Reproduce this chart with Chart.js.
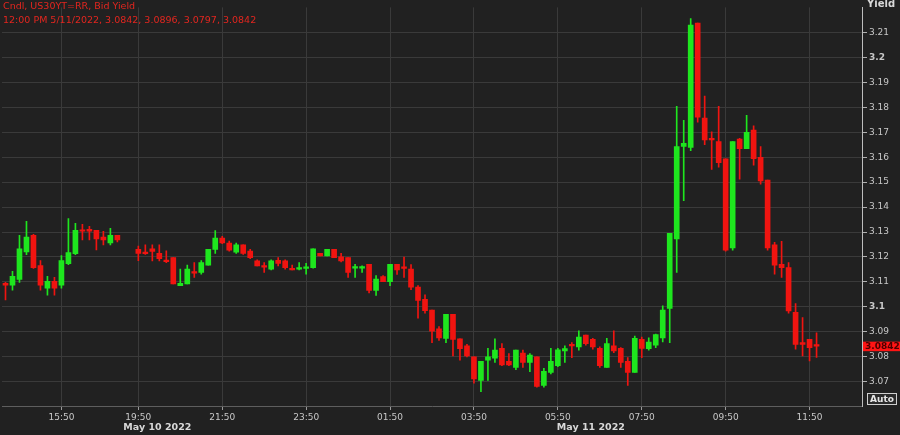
<!DOCTYPE html>
<html>
<head>
<meta charset="utf-8">
<script src="https://cdn.jsdelivr.net/npm/chart.js@4.4.1/dist/chart.umd.min.js"></script>
<style>
  html, body { margin: 0; padding: 0; background: #212121; }
  #wrap { width: 900px; height: 435px; }
</style>
</head>
<body>
<div id="wrap"><canvas id="chart" width="900" height="435"></canvas></div>
<script>
// 10-minute candles, US30YT=RR bid yield
const times = [
  '14:30','14:40','14:50','15:00','15:10','15:20','15:30','15:40','15:50','16:00','16:10','16:20','16:30','16:40','16:50','17:00','17:10',
  '19:50','20:00','20:10','20:20','20:30','20:40','20:50','21:00','21:10','21:20','21:30','21:40','21:50',
  '22:00','22:10','22:20','22:30','22:40','22:50','23:00','23:10','23:20','23:30','23:40','23:50',
  '00:00','00:10','00:20','00:30','00:40','00:50','01:00','01:10','01:20','01:30','01:40','01:50',
  '02:00','02:10','02:20','02:30','02:40','02:50','03:00','03:10','03:20','03:30','03:40','03:50',
  '04:00','04:10','04:20','04:30','04:40','04:50','05:00','05:10','05:20','05:30','05:40','05:50',
  '06:00','06:10','06:20','06:30','06:40','06:50','07:00','07:10','07:20','07:30','07:40','07:50',
  '08:00','08:10','08:20','08:30','08:40','08:50','09:00','09:10','09:20','09:30','09:40','09:50',
  '10:00','10:10','10:20','10:30','10:40','10:50','11:00','11:10','11:20','11:30','11:40','11:50',
  '12:00'
];
const opens = [
  3.1094, 3.1087, 3.1110, 3.1220, 3.1287, 3.1165, 3.1075, 3.1102, 3.1087, 3.1173, 3.1213, 3.1307, 3.1311, 3.1307, 3.1280, 3.1256, 3.1287,
  3.1230, 3.1217, 3.1232, 3.1214, 3.1185, 3.1197, 3.1085, 3.1092, 3.1138, 3.1138,
  3.1167, 3.1230, 3.1276, 3.1256, 3.1219, 3.1249, 3.1223, 3.1184, 3.1161, 3.1151,
  3.1186, 3.1184, 3.1151, 3.1151, 3.1154, 3.1157, 3.1214, 3.1204, 3.1230, 3.1200,
  3.1197, 3.1155, 3.1155, 3.1170, 3.1066, 3.1121, 3.1101, 3.1170, 3.1160, 3.1151,
  3.1079, 3.1030, 3.0987, 3.0912, 3.0873, 3.0970, 3.0871, 3.0843, 3.0799, 3.0705,
  3.0786, 3.0794, 3.0833, 3.0781, 3.0757, 3.0814, 3.0777, 3.0799, 3.0685, 3.0737,
  3.0764, 3.0823, 3.0846, 3.0839, 3.0886, 3.0869, 3.0833, 3.0757, 3.0843, 3.0833,
  3.0781, 3.0737, 3.0869, 3.0832, 3.0846, 3.0875, 3.0993, 3.1272, 3.1643, 3.1639,
  3.2138, 3.1757, 3.1676, 3.1663, 3.1594, 3.1236, 3.1673, 3.1634, 3.1709, 3.1600,
  3.1508, 3.1249, 3.1170, 3.1157, 3.0978, 3.0856, 3.0869, 3.0842
];
const highs = [
  3.1098, 3.1142, 3.1287, 3.1343, 3.1291, 3.1185, 3.1122, 3.1118, 3.1205, 3.1354, 3.1335, 3.1331, 3.1323, 3.1307, 3.1303, 3.1315, 3.1287,
  3.1244, 3.1249, 3.1249, 3.1249, 3.1224, 3.1197, 3.1151, 3.1167, 3.1177, 3.1185,
  3.1230, 3.1306, 3.1283, 3.1264, 3.1256, 3.1249, 3.1230, 3.1188, 3.1177, 3.1188,
  3.1197, 3.1188, 3.1167, 3.1177, 3.1174, 3.1232, 3.1214, 3.1230, 3.1230, 3.1214,
  3.1197, 3.1170, 3.1164, 3.1170, 3.1125, 3.1125, 3.1170, 3.1170, 3.1199, 3.1169,
  3.1085, 3.1048, 3.0987, 3.0921, 3.0970, 3.0970, 3.0871, 3.0849, 3.0799, 3.0781,
  3.0833, 3.0871, 3.0852, 3.0812, 3.0826, 3.0826, 3.0812, 3.0799, 3.0753, 3.0833,
  3.0833, 3.0843, 3.0856, 3.0904, 3.0886, 3.0873, 3.0839, 3.0873, 3.0904, 3.0836,
  3.0796, 3.0882, 3.0878, 3.0875, 3.0891, 3.1004, 3.1295, 3.1804, 3.1748, 3.2156,
  3.2138, 3.1845, 3.1702, 3.1804, 3.1594, 3.1663, 3.1676, 3.1768, 3.1726, 3.1643,
  3.1508, 3.1259, 3.1263, 3.1177, 3.1013, 3.0957, 3.0869, 3.0896
];
const lows = [
  3.1028, 3.1067, 3.1098, 3.1209, 3.1154, 3.1067, 3.1047, 3.1047, 3.1075, 3.1169, 3.1209, 3.1268, 3.1268, 3.1228, 3.1248, 3.1248, 3.1260,
  3.1185, 3.1210, 3.1184, 3.1184, 3.1177, 3.1092, 3.1085, 3.1092, 3.1118, 3.1131,
  3.1167, 3.1214, 3.1253, 3.1223, 3.1214, 3.1210, 3.1193, 3.1164, 3.1138, 3.1148,
  3.1164, 3.1151, 3.1148, 3.1148, 3.1131, 3.1155, 3.1204, 3.1204, 3.1197, 3.1180,
  3.1118, 3.1118, 3.1138, 3.1056, 3.1046, 3.1101, 3.1085, 3.1130, 3.1118, 3.1069,
  3.0954, 3.0974, 3.0856, 3.0865, 3.0856, 3.0803, 3.0786, 3.0799, 3.0694, 3.0659,
  3.0705, 3.0777, 3.0764, 3.0764, 3.0748, 3.0757, 3.0740, 3.0678, 3.0678, 3.0731,
  3.0760, 3.0777, 3.0796, 3.0826, 3.0846, 3.0830, 3.0757, 3.0757, 3.0816, 3.0757,
  3.0685, 3.0737, 3.0796, 3.0826, 3.0836, 3.0859, 3.0856, 3.1138, 3.1426, 3.1626,
  3.1741, 3.1650, 3.1551, 3.1560, 3.1223, 3.1227, 3.1512, 3.1634, 3.1568, 3.1492,
  3.1227, 3.1131, 3.1118, 3.0974, 3.0830, 3.0803, 3.0783, 3.0797
];
const closes = [
  3.1087, 3.1122, 3.1232, 3.1280, 3.1157, 3.1087, 3.1102, 3.1075, 3.1185, 3.1217, 3.1307, 3.1303, 3.1303, 3.1272, 3.1268, 3.1287, 3.1268,
  3.1214, 3.1213, 3.1222, 3.1193, 3.1181, 3.1092, 3.1094, 3.1151, 3.1135, 3.1177,
  3.1230, 3.1276, 3.1256, 3.1227, 3.1249, 3.1214, 3.1197, 3.1164, 3.1159, 3.1184,
  3.1174, 3.1157, 3.1148, 3.1157, 3.1160, 3.1232, 3.1204, 3.1230, 3.1197, 3.1184,
  3.1138, 3.1160, 3.1160, 3.1066, 3.1111, 3.1101, 3.1170, 3.1148, 3.1154, 3.1079,
  3.1026, 3.0984, 3.0902, 3.0875, 3.0970, 3.0869, 3.0832, 3.0803, 3.0711, 3.0781,
  3.0799, 3.0826, 3.0767, 3.0767, 3.0826, 3.0777, 3.0806, 3.0681, 3.0741, 3.0781,
  3.0827, 3.0832, 3.0843, 3.0878, 3.0852, 3.0839, 3.0764, 3.0852, 3.0823, 3.0777,
  3.0737, 3.0873, 3.0833, 3.0858, 3.0889, 3.0987, 3.1295, 3.1643, 3.1656, 3.2130,
  3.1761, 3.1669, 3.1669, 3.1578, 3.1227, 3.1663, 3.1634, 3.1700, 3.1594, 3.1505,
  3.1236, 3.1167, 3.1157, 3.0983, 3.0849, 3.0849, 3.0836, 3.0842
];
const xTicks = ['15:50', '19:50', '21:50', '23:50', '01:50', '03:50', '05:50', '07:50', '09:50', '11:50'];
const yTicks = [3.07, 3.08, 3.09, 3.1, 3.11, 3.12, 3.13, 3.14, 3.15, 3.16, 3.17, 3.18, 3.19, 3.2, 3.21];
const boldTicks = [3.1, 3.2];
const dateLabels = [{ text: 'May 10 2022', at: '19:50', dx: -15 }, { text: 'May 11 2022', at: '05:50', dx: -1 }];

// session break after 17:10 takes two empty slots; six empty slots after the last bar
const gapAfter = '17:10';
const gapSlots = 2;
const trailingSlots = 6;

const GREEN = '#1ee61e';
const RED = '#f01410';

const labels = [];
const slotOf = [];
times.forEach(t => {
    slotOf.push(labels.length);
    labels.push(t);
    if (t === gapAfter) for (let g = 0; g < gapSlots; g++) labels.push('');
});
for (let g = 0; g < trailingSlots; g++) labels.push('');

const wickData = labels.map(() => null);
const bodyData = labels.map(() => null);
const colors = labels.map(() => RED);
times.forEach((t, i) => {
    const k = slotOf[i];
    wickData[k] = [lows[i], highs[i]];
    bodyData[k] = [opens[i], closes[i]];
    colors[k] = closes[i] > opens[i] ? GREEN : RED;
});

const n = closes.length - 1;
const legendLines = [
    'Cndl, US30YT=RR, Bid Yield',
    '12:00 PM 5/11/2022, ' + [opens[n], highs[n], lows[n], closes[n]].map(v => v.toFixed(4)).join(', ')
];

const FONT = 'DejaVu Sans';
const isXTick = v => xTicks.includes(labels[v]);

const overlay = {
    id: 'overlay',
    beforeDraw(chart) {
        const c = chart.ctx;
        c.save();
        c.fillStyle = '#212121';
        c.fillRect(0, 0, chart.width, chart.height);
        c.restore();
    },
    afterDraw(chart) {
        const c = chart.ctx, xs = chart.scales.x, ys = chart.scales.y, a = chart.chartArea;
        c.save();
        c.textBaseline = 'middle';
        c.textAlign = 'left';
        // top-left legend
        c.fillStyle = '#e3261f';
        c.font = '9.5px "' + FONT + '"';
        c.fillText(legendLines[0], 3, 7);
        c.fillText(legendLines[1], 3, 21);
        // axis title
        c.fillStyle = '#d8d8d8';
        c.font = 'bold 10px "' + FONT + '"';
        c.fillText('Yield', a.right + 5, 4);
        // date row
        c.font = 'bold 9.5px "' + FONT + '"';
        dateLabels.forEach(d => {
            const i = labels.indexOf(d.at);
            c.fillText(d.text, xs.getPixelForValue(i) + d.dx, 428);
        });
        // last price tag
        const py = ys.getPixelForValue(closes[n]);
        c.fillStyle = '#ff1414';
        c.fillRect(a.right + 1, py - 4.5, chart.width - a.right - 1, 9.5);
        c.fillStyle = '#4a0000';
        c.font = 'bold 9px "' + FONT + '"';
        c.fillText(closes[n].toFixed(4), a.right + 3, py + 0.5);
        // Auto button
        c.fillStyle = '#2a2a2a';
        c.fillRect(867.5, 393.5, 29, 11);
        c.strokeStyle = '#cfcfcf';
        c.lineWidth = 1;
        c.strokeRect(867.5, 393.5, 29, 11);
        c.fillStyle = '#e6e6e6';
        c.textAlign = 'center';
        c.font = 'bold 9px "' + FONT + '"';
        c.fillText('Auto', 882, 399.5);
        c.restore();
    }
};

new Chart(document.getElementById('chart'), {
    type: 'bar',
    data: {
        labels: labels,
        datasets: [{
            label: 'wick',
            data: wickData,
            backgroundColor: colors,
            barThickness: 1,
            grouped: false,
            order: 2
        }, {
            label: 'body',
            data: bodyData,
            backgroundColor: colors,
            barThickness: 5,
            minBarLength: 1.5,
            grouped: false,
            order: 1
        }]
    },
    options: {
        responsive: false,
        animation: false,
        devicePixelRatio: 1,
        layout: { padding: { left: 2, top: 0, right: 0, bottom: 0 } },
        plugins: {
            legend: { display: false },
            tooltip: { enabled: false }
        },
        scales: {
            x: {
                offset: true,
                afterFit: s => { s.height = 29; },
                grid: {
                    offset: false,
                    color: ctx => (ctx.tick && isXTick(ctx.tick.value)) ? '#3a3a3a' : 'rgba(0,0,0,0)',
                    tickColor: ctx => (ctx.tick && isXTick(ctx.tick.value)) ? '#9a9a9a' : 'rgba(0,0,0,0)',
                    tickLength: 4
                },
                border: { color: '#5e5e5e' },
                ticks: {
                    autoSkip: false,
                    maxRotation: 0,
                    padding: 2,
                    color: '#c8c8c8',
                    font: { family: FONT, size: 9 },
                    callback: function (v) {
                        const l = this.getLabelForValue(v);
                        return xTicks.includes(l) ? l : null;
                    }
                }
            },
            y: {
                position: 'right',
                min: 3.0602,
                max: 3.2201,
                afterBuildTicks: s => { s.ticks = yTicks.map(v => ({ value: v })); },
                afterFit: s => { s.width = 38; },
                grid: { color: '#3a3a3a', tickColor: '#b0b0b0', tickLength: 5 },
                border: { color: '#bdbdbd' },
                ticks: {
                    padding: 2,
                    color: '#c8c8c8',
                    font: ctx => ({
                        family: FONT,
                        size: 9,
                        weight: (ctx.tick && boldTicks.some(b => Math.abs(b - ctx.tick.value) < 1e-6)) ? 'bold' : 'normal'
                    }),
                    callback: v => String(+v.toFixed(2))
                }
            }
        }
    },
    plugins: [overlay]
});
</script>
</body>
</html>
